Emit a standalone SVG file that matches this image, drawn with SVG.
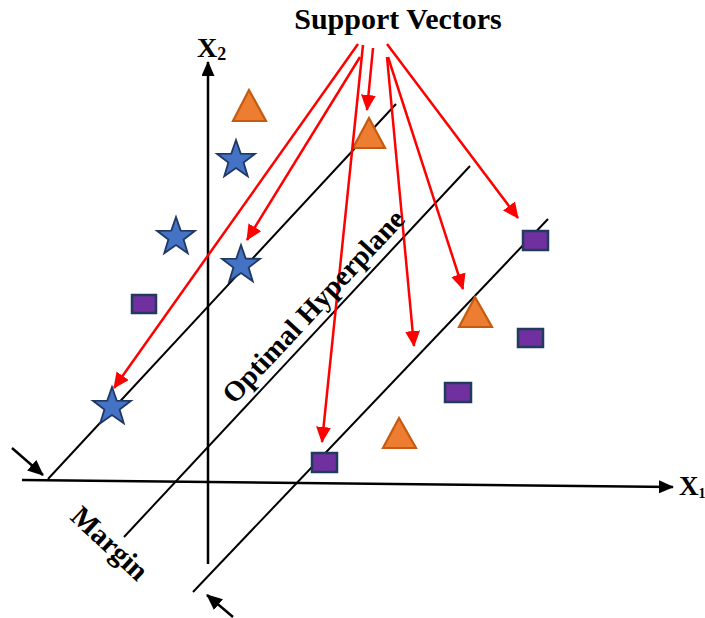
<svg xmlns="http://www.w3.org/2000/svg" xmlns:xlink="http://www.w3.org/1999/xlink" width="705" height="618" viewBox="0 0 705 618">
<style>
  .lbl { font-family: "Liberation Serif", "Times New Roman", serif; font-weight: bold; fill: #000; }
  .axis { stroke: #000; stroke-width: 2.5; fill: none; }
  .plane { stroke: #000; stroke-width: 2; fill: none; }
  .sv { stroke: #FF0000; stroke-width: 2.5; fill: none; marker-end: url(#redHead); }
  .marg { stroke: #000; stroke-width: 2.5; fill: none; marker-end: url(#blkHead2); }
  .star { fill: #4472C4; stroke: #1F3864; stroke-width: 1.8; stroke-linejoin: miter; }
  .tri { fill: #ED7D31; stroke: #C55A11; stroke-width: 2.2; stroke-linejoin: miter; }
  .sq { fill: #7030A0; stroke: #223A5E; stroke-width: 2.5; }
</style>
<defs>
  <marker id="redHead" viewBox="0 0 16 15" refX="15" refY="7.5" markerWidth="16" markerHeight="15" markerUnits="userSpaceOnUse" orient="auto">
    <path d="M0,0 L16,7.5 L0,15 Z" fill="#FF0000"/>
  </marker>
  <marker id="blkHead" viewBox="0 0 15 13" refX="14" refY="6.5" markerWidth="15" markerHeight="13" markerUnits="userSpaceOnUse" orient="auto">
    <path d="M0,0 L15,6.5 L0,13 Z" fill="#000"/>
  </marker>
  <marker id="blkHead2" viewBox="0 0 16 14" refX="15" refY="7" markerWidth="16" markerHeight="14" markerUnits="userSpaceOnUse" orient="auto">
    <path d="M0,0 L16,7 L0,14 Z" fill="#000"/>
  </marker>
  <path id="starShape" d="M0,-20 L4.70,-6.47 L19.02,-6.18 L7.61,2.47 L11.76,16.18 L0,8 L-11.76,16.18 L-7.61,2.47 L-19.02,-6.18 L-4.70,-6.47 Z"/>
</defs>

<g id="axes">
  <line class="axis" x1="22" y1="480" x2="673" y2="487" marker-end="url(#blkHead)"/>
  <line class="axis" x1="208" y1="564" x2="208" y2="62" marker-end="url(#blkHead)"/>
  <text class="lbl" x="679" y="495" font-size="27">X<tspan font-size="14" dy="3">1</tspan></text>
  <text class="lbl" x="197" y="57" font-size="28">X<tspan font-size="18" dy="3">2</tspan></text>
</g>

<g id="hyperplanes">
  <line class="plane" x1="48" y1="479" x2="396" y2="104"/>
  <line class="plane" x1="124" y1="537" x2="470" y2="166"/>
  <line class="plane" x1="193" y1="592" x2="548" y2="219"/>
</g>

<g id="stars">
  <g id="star1"><use xlink:href="#starShape" href="#starShape" class="star" transform="translate(236,160)"/></g>
  <g id="star2"><use xlink:href="#starShape" href="#starShape" class="star" transform="translate(176,237)"/></g>
  <g id="star3"><use xlink:href="#starShape" href="#starShape" class="star" transform="translate(241,265)"/></g>
  <g id="star4"><use xlink:href="#starShape" href="#starShape" class="star" transform="translate(112,407)"/></g>
</g>

<g id="triangles">
  <g id="tri1"><polygon class="tri" points="249,90 233,121 266,121"/></g>
  <g id="tri2"><polygon class="tri" points="369,118 353,148 385,148"/></g>
  <g id="tri3"><polygon class="tri" points="475,297 459,327 492,327"/></g>
  <g id="tri4"><polygon class="tri" points="399,418 383,448 416,448"/></g>
</g>

<g id="squares">
  <g id="sq1"><rect class="sq" x="132" y="295" width="24" height="18"/></g>
  <g id="sq2"><rect class="sq" x="312" y="453" width="25" height="19"/></g>
  <g id="sq3"><rect class="sq" x="445" y="383" width="26" height="19"/></g>
  <g id="sq4"><rect class="sq" x="518" y="329" width="25" height="18"/></g>
  <g id="sq5"><rect class="sq" x="523" y="231" width="25" height="19"/></g>
</g>

<g id="connectors">
  <line class="sv" x1="358" y1="44" x2="114" y2="388"/>
  <line class="sv" x1="360" y1="57" x2="247" y2="240"/>
  <line class="sv" x1="363" y1="45" x2="322" y2="442"/>
  <line class="sv" x1="373" y1="48" x2="367" y2="110"/>
  <line class="sv" x1="387" y1="57" x2="414" y2="346"/>
  <line class="sv" x1="388" y1="57" x2="463" y2="289"/>
  <line class="sv" x1="387" y1="44" x2="518" y2="218"/>
  <line class="marg" x1="12" y1="448" x2="43" y2="475"/>
  <line class="marg" x1="233" y1="617" x2="207" y2="595"/>
</g>

<g id="labels">
  <text class="lbl" x="398" y="29" font-size="30" text-anchor="middle">Support Vectors</text>
  <text class="lbl" font-size="28.5" text-anchor="middle" transform="translate(313,306) rotate(-47)" y="10">Optimal Hyperplane</text>
  <text class="lbl" font-size="29" text-anchor="middle" transform="translate(110,543) rotate(43)" y="10">Margin</text>
</g>
</svg>
